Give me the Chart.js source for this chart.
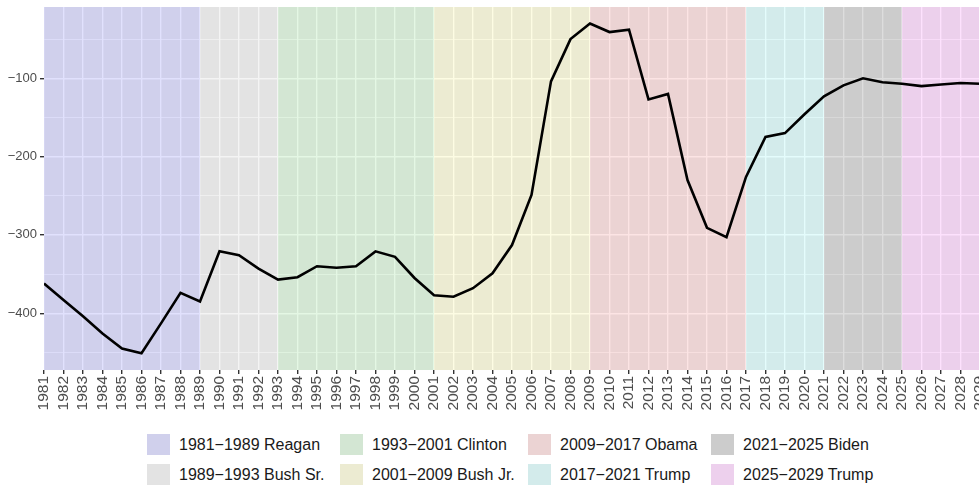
<!DOCTYPE html>
<html>
<head>
<meta charset="utf-8">
<script src="https://cdn.jsdelivr.net/npm/chart.js@4.4.1/dist/chart.umd.min.js"></script>
<style>
  html, body { margin: 0; padding: 0; background: #ffffff; overflow: hidden; width: 979px; height: 485px; }
  #wrap { position: absolute; left: 0; top: 0; width: 980px; height: 420px; }
  #legend { position: absolute; left: 147px; top: 434px; display: grid;
    grid-auto-flow: column; grid-template-rows: 30px 30px;
    grid-template-columns: 193px 188px 183px 240px;
    font-family: "Liberation Sans", Arial, sans-serif; font-size: 16px; color: #1a1a1a; }
  .item { display: flex; align-items: flex-start; white-space: nowrap; }
  .sw { width: 23px; height: 21px; margin-right: 9px; flex: none; }
  .lt { line-height: 21px; }
</style>
</head>
<body>
<div id="wrap"><canvas id="c"></canvas></div>
<div id="legend"></div>
<script>
// ---- data ----
const years = [1981,1982,1983,1984,1985,1986,1987,1988,1989,1990,1991,1992,1993,1994,1995,1996,1997,1998,1999,2000,
  2001,2002,2003,2004,2005,2006,2007,2008,2009,2010,2011,2012,2013,2014,2015,2016,2017,2018,2019,2020,
  2021,2022,2023,2024,2025,2026,2027,2028,2029];
const values = [-362,-383,-404,-426,-445,-451,-413,-374,-385,-321,-326,-343,-357,-354,-340,-342,-340,-321,-328,-355,
  -377,-379,-368,-349,-313,-249,-104,-50,-30,-41,-38,-127,-120,-230,-291,-303,-226,-175,-170,-146,
  -123,-109,-100,-105,-107,-110,-108,-106,-107];
const termLabels = ['1981\u22121989 Reagan','1989\u22121993 Bush Sr.','1993\u22122001 Clinton','2001\u22122009 Bush Jr.',
  '2009\u22122017 Obama','2017\u22122021 Trump','2021\u22122025 Biden','2025\u22122029 Trump'];
const termStart = [1981,1989,1993,2001,2009,2017,2021,2025];
const termEnd   = [1989,1993,2001,2009,2017,2021,2025,2029];
const termColors = ['rgba(55,55,242,0.15)','rgba(182,182,182,0.15)','rgba(75,202,75,0.15)','rgba(242,235,68,0.15)',
  'rgba(235,75,75,0.15)','rgba(75,235,235,0.15)','rgba(28,28,28,0.15)','rgba(242,55,242,0.15)'];
const legendColors = ['#d0d0ec','#e3e3e3','#d3e6d3','#ecebd2','#ebd3d3','#d3ebeb','#cccccc','#edd0ed'];
const yTicks = [-450,-400,-350,-300,-250,-200,-150,-100,-50];
const yMin = -472.5, yMax = -9;

// ---- legend (HTML) ----
const lg = document.getElementById('legend');
termLabels.forEach((t, i) => {
  const d = document.createElement('div'); d.className = 'item';
  const s = document.createElement('div'); s.className = 'sw'; s.style.background = legendColors[i];
  const l = document.createElement('span'); l.className = 'lt'; l.textContent = t;
  d.appendChild(s); d.appendChild(l); lg.appendChild(d);
});

// ---- plugins ----
const panelBg = {
  id: 'panelBg',
  beforeDraw(chart) {
    const a = chart.chartArea, ctx = chart.ctx;
    ctx.save(); ctx.fillStyle = '#ebebeb';
    ctx.fillRect(a.left, a.top, a.right - a.left, a.bottom - a.top); ctx.restore();
  }
};
const bands = {
  id: 'bands',
  beforeDatasetsDraw(chart) {
    const a = chart.chartArea, ctx = chart.ctx, x = chart.scales.x;
    ctx.save();
    ctx.beginPath(); ctx.rect(a.left, a.top, a.right - a.left, a.bottom - a.top); ctx.clip();
    termStart.forEach((s, i) => {
      const x0 = x.getPixelForValue(s), x1 = x.getPixelForValue(termEnd[i]);
      ctx.fillStyle = termColors[i];
      ctx.fillRect(x0, a.top, x1 - x0, a.bottom - a.top);
    });
    ctx.restore();
  }
};

const tickFont = { family: '"Liberation Sans", Arial, sans-serif', size: 13 };
new Chart(document.getElementById('c'), {
  type: 'line',
  data: {
    datasets: [{
      data: years.map((y, i) => ({ x: y, y: values[i] })),
      borderColor: '#000000', borderWidth: 2.6, pointRadius: 0, tension: 0, fill: false
    }]
  },
  options: {
    responsive: true, maintainAspectRatio: false, animation: false,
    layout: { padding: { top: 7, right: 0, left: 0, bottom: 0 } },
    plugins: { legend: { display: false }, tooltip: { enabled: false } },
    scales: {
      x: {
        type: 'linear', min: 1981, max: 2029,
        afterBuildTicks(s) { s.ticks = years.map(v => ({ value: v })); },
        afterFit(s) { s.height = 50; s.paddingLeft = 0; s.paddingRight = 0; },
        ticks: { autoSkip: false, minRotation: 90, maxRotation: 90, color: '#4d4d4d', padding: 2,
          font: { family: '"Liberation Sans", Arial, sans-serif', size: 15.5 }, callback: v => String(v) },
        grid: { color: '#ffffff', lineWidth: 1.4, tickColor: '#333333', tickLength: 4, drawTicks: true },
        border: { display: false }
      },
      y: {
        min: yMin, max: yMax,
        afterBuildTicks(s) { s.ticks = yTicks.map(v => ({ value: v })); },
        afterFit(s) { s.width = 44; s.paddingTop = 0; s.paddingBottom = 0; },
        ticks: { color: '#4d4d4d', padding: 3, font: tickFont,
          callback: v => (v % 100 === 0 ? String(v).replace('-', '\u2212') : '') },
        grid: { color: '#ffffff',
          lineWidth: c => (c.tick && c.tick.value % 100 === 0 ? 1.4 : 0.7),
          tickColor: c => (c.tick && c.tick.value % 100 === 0 ? '#333333' : 'rgba(0,0,0,0)'),
          tickLength: 4 },
        border: { display: false }
      }
    }
  },
  plugins: [panelBg, bands]
});
</script>
</body>
</html>
